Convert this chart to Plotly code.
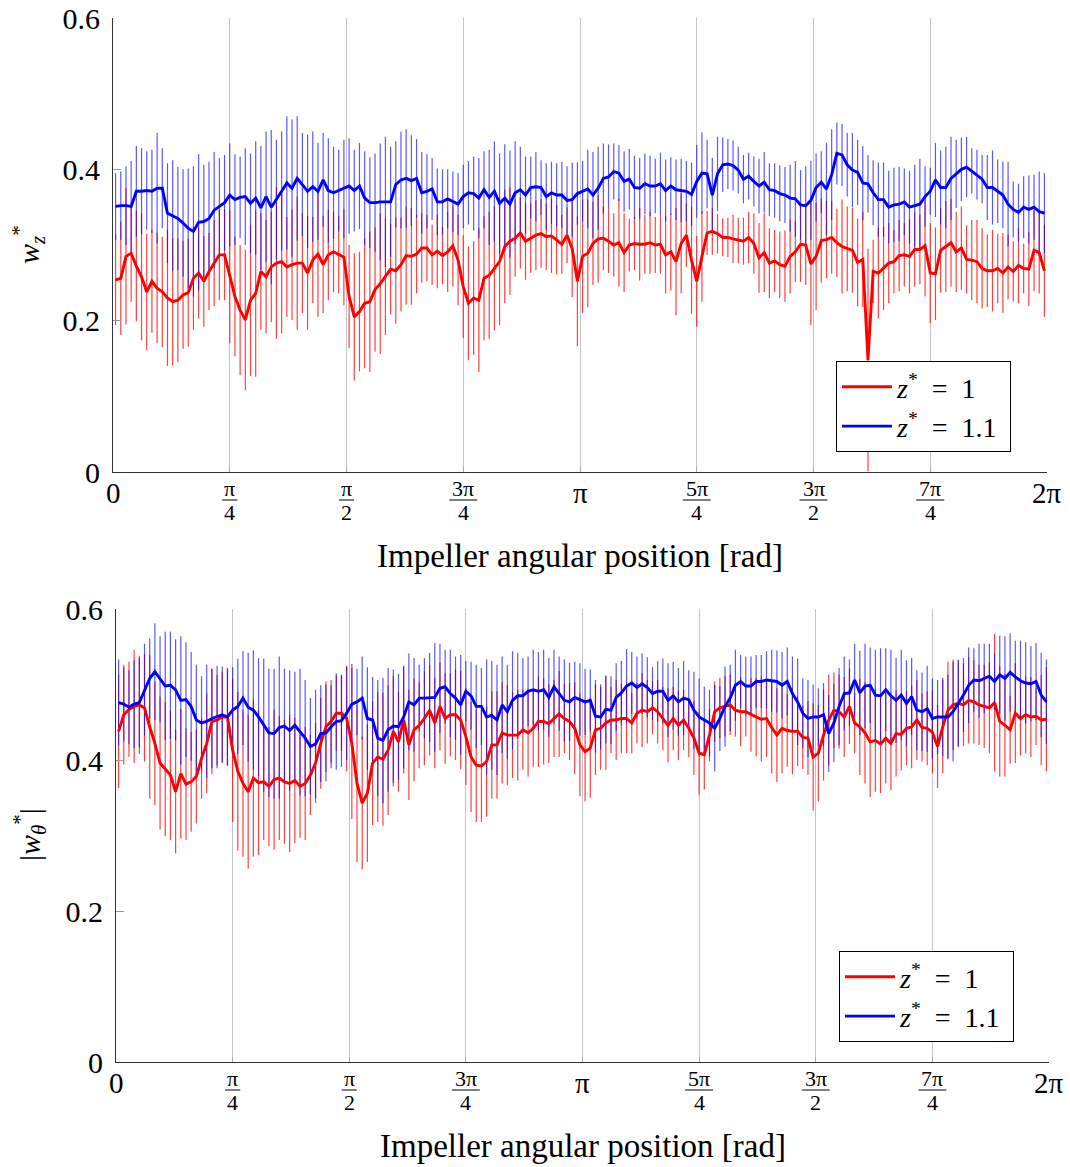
import numpy as np
import plotly.graph_objects as go

# sample angles (degrees), one sample every 2 degrees
angle_deg = list(range(1, 360, 2))

# ---------- top panel: w_z* ----------
wz_z1 = [0.254, 0.256, 0.285, 0.289, 0.272, 0.258, 0.238, 0.252, 0.243, 0.238,
         0.230, 0.225, 0.227, 0.234, 0.237, 0.256, 0.263, 0.252, 0.265, 0.276,
         0.287, 0.287, 0.258, 0.232, 0.214, 0.201, 0.227, 0.236, 0.265, 0.258,
         0.271, 0.276, 0.278, 0.271, 0.274, 0.276, 0.276, 0.263, 0.280, 0.288,
         0.274, 0.287, 0.291, 0.287, 0.284, 0.232, 0.205, 0.212, 0.223, 0.225,
         0.241, 0.249, 0.258, 0.268, 0.266, 0.274, 0.286, 0.285, 0.288, 0.296,
         0.296, 0.287, 0.292, 0.286, 0.291, 0.299, 0.280, 0.245, 0.223, 0.230,
         0.227, 0.256, 0.260, 0.269, 0.278, 0.298, 0.305, 0.309, 0.316, 0.305,
         0.309, 0.313, 0.315, 0.311, 0.312, 0.307, 0.301, 0.313, 0.295, 0.252,
         0.285, 0.289, 0.302, 0.308, 0.309, 0.305, 0.300, 0.303, 0.290, 0.300,
         0.302, 0.301, 0.301, 0.303, 0.300, 0.301, 0.287, 0.291, 0.278, 0.302,
         0.313, 0.280, 0.252, 0.285, 0.316, 0.318, 0.315, 0.310, 0.310, 0.308,
         0.306, 0.305, 0.310, 0.302, 0.283, 0.290, 0.276, 0.279, 0.274, 0.272,
         0.285, 0.291, 0.301, 0.300, 0.275, 0.285, 0.306, 0.307, 0.310, 0.303,
         0.298, 0.295, 0.293, 0.277, 0.281, 0.148, 0.265, 0.263, 0.269, 0.276,
         0.278, 0.286, 0.287, 0.285, 0.294, 0.294, 0.299, 0.263, 0.262, 0.293,
         0.298, 0.303, 0.291, 0.296, 0.281, 0.280, 0.278, 0.269, 0.266, 0.266,
         0.269, 0.263, 0.271, 0.265, 0.273, 0.269, 0.268, 0.293, 0.290, 0.266]
wz_z1_err = [0.060, 0.075, 0.090, 0.064, 0.073, 0.084, 0.077, 0.068, 0.073, 0.073,
             0.090, 0.084, 0.082, 0.071, 0.071, 0.068, 0.060, 0.060, 0.051, 0.057,
             0.060, 0.060, 0.088, 0.079, 0.086, 0.093, 0.100, 0.110, 0.077, 0.075,
             0.073, 0.100, 0.095, 0.066, 0.073, 0.088, 0.066, 0.075, 0.057, 0.083,
             0.064, 0.060, 0.053, 0.051, 0.064, 0.068, 0.084, 0.079, 0.086, 0.093,
             0.082, 0.093, 0.077, 0.060, 0.070, 0.062, 0.065, 0.064, 0.052, 0.046,
             0.044, 0.040, 0.049, 0.038, 0.053, 0.054, 0.060, 0.068, 0.075, 0.075,
             0.095, 0.082, 0.084, 0.082, 0.084, 0.075, 0.071, 0.051, 0.047, 0.051,
             0.046, 0.046, 0.045, 0.044, 0.049, 0.046, 0.039, 0.037, 0.064, 0.086,
             0.075, 0.071, 0.055, 0.058, 0.042, 0.042, 0.042, 0.058, 0.052, 0.035,
             0.035, 0.048, 0.039, 0.041, 0.037, 0.039, 0.051, 0.051, 0.071, 0.066,
             0.042, 0.071, 0.060, 0.060, 0.029, 0.031, 0.026, 0.025, 0.026, 0.032,
             0.030, 0.031, 0.034, 0.040, 0.046, 0.052, 0.046, 0.041, 0.044, 0.047,
             0.049, 0.040, 0.050, 0.053, 0.081, 0.071, 0.056, 0.051, 0.048, 0.045,
             0.062, 0.056, 0.056, 0.058, 0.063, 0.147, 0.042, 0.060, 0.055, 0.053,
             0.042, 0.047, 0.042, 0.049, 0.049, 0.046, 0.067, 0.066, 0.061, 0.056,
             0.060, 0.058, 0.053, 0.055, 0.045, 0.053, 0.055, 0.053, 0.048, 0.054,
             0.046, 0.053, 0.043, 0.040, 0.050, 0.033, 0.049, 0.054, 0.054, 0.061]
wz_z11 = [0.351, 0.352, 0.352, 0.351, 0.371, 0.371, 0.372, 0.371, 0.375, 0.375,
          0.342, 0.339, 0.335, 0.329, 0.322, 0.318, 0.330, 0.331, 0.335, 0.346,
          0.351, 0.356, 0.366, 0.360, 0.363, 0.364, 0.355, 0.362, 0.349, 0.364,
          0.350, 0.360, 0.371, 0.382, 0.375, 0.388, 0.380, 0.371, 0.377, 0.371,
          0.386, 0.372, 0.369, 0.372, 0.374, 0.378, 0.372, 0.378, 0.362, 0.356,
          0.356, 0.357, 0.357, 0.357, 0.380, 0.386, 0.388, 0.385, 0.388, 0.369,
          0.371, 0.374, 0.357, 0.357, 0.361, 0.357, 0.354, 0.364, 0.369, 0.368,
          0.362, 0.373, 0.363, 0.371, 0.355, 0.362, 0.354, 0.369, 0.373, 0.366,
          0.376, 0.377, 0.376, 0.364, 0.369, 0.366, 0.366, 0.359, 0.360, 0.368,
          0.371, 0.374, 0.366, 0.375, 0.388, 0.390, 0.397, 0.395, 0.384, 0.387,
          0.376, 0.375, 0.381, 0.378, 0.378, 0.381, 0.372, 0.378, 0.373, 0.372,
          0.371, 0.367, 0.384, 0.395, 0.394, 0.366, 0.394, 0.406, 0.407, 0.405,
          0.399, 0.387, 0.391, 0.384, 0.378, 0.383, 0.373, 0.372, 0.368, 0.366,
          0.362, 0.361, 0.353, 0.352, 0.359, 0.376, 0.383, 0.374, 0.393, 0.421,
          0.419, 0.406, 0.399, 0.396, 0.382, 0.381, 0.369, 0.360, 0.360, 0.350,
          0.353, 0.354, 0.357, 0.350, 0.352, 0.354, 0.364, 0.371, 0.386, 0.376,
          0.376, 0.388, 0.394, 0.400, 0.403, 0.398, 0.393, 0.387, 0.376, 0.376,
          0.371, 0.366, 0.354, 0.347, 0.343, 0.350, 0.347, 0.350, 0.344, 0.342]
wz_z11_err = [0.044, 0.045, 0.052, 0.060, 0.060, 0.057, 0.052, 0.055, 0.073, 0.053,
              0.066, 0.073, 0.068, 0.071, 0.079, 0.086, 0.090, 0.075, 0.075, 0.077,
              0.064, 0.063, 0.068, 0.060, 0.054, 0.064, 0.066, 0.075, 0.082, 0.086,
              0.102, 0.079, 0.079, 0.088, 0.091, 0.082, 0.068, 0.075, 0.073, 0.064,
              0.062, 0.069, 0.061, 0.054, 0.065, 0.063, 0.054, 0.057, 0.062, 0.060,
              0.065, 0.077, 0.086, 0.073, 0.057, 0.064, 0.065, 0.060, 0.052, 0.054,
              0.049, 0.041, 0.044, 0.043, 0.039, 0.040, 0.041, 0.042, 0.042, 0.049,
              0.053, 0.051, 0.063, 0.066, 0.066, 0.071, 0.071, 0.068, 0.057, 0.051,
              0.041, 0.046, 0.036, 0.044, 0.041, 0.042, 0.044, 0.045, 0.049, 0.041,
              0.040, 0.052, 0.057, 0.055, 0.046, 0.043, 0.037, 0.037, 0.040, 0.040,
              0.042, 0.040, 0.040, 0.040, 0.036, 0.041, 0.041, 0.038, 0.040, 0.042,
              0.040, 0.042, 0.048, 0.054, 0.045, 0.049, 0.049, 0.036, 0.033, 0.033,
              0.031, 0.032, 0.031, 0.033, 0.036, 0.040, 0.035, 0.036, 0.037, 0.037,
              0.044, 0.050, 0.046, 0.052, 0.052, 0.045, 0.041, 0.061, 0.060, 0.041,
              0.041, 0.042, 0.049, 0.043, 0.049, 0.038, 0.043, 0.049, 0.049, 0.048,
              0.049, 0.049, 0.044, 0.048, 0.054, 0.060, 0.040, 0.031, 0.049, 0.049,
              0.054, 0.055, 0.045, 0.042, 0.040, 0.030, 0.033, 0.032, 0.043, 0.049,
              0.042, 0.044, 0.056, 0.037, 0.038, 0.041, 0.045, 0.043, 0.053, 0.053]

# ---------- bottom panel: |w_theta*| ----------
wt_z1 = [0.438, 0.460, 0.467, 0.471, 0.473, 0.469, 0.444, 0.422, 0.396, 0.388,
         0.380, 0.358, 0.382, 0.368, 0.371, 0.378, 0.402, 0.422, 0.451, 0.453,
         0.457, 0.457, 0.413, 0.385, 0.369, 0.358, 0.376, 0.370, 0.371, 0.365,
         0.374, 0.376, 0.371, 0.369, 0.373, 0.365, 0.369, 0.380, 0.396, 0.422,
         0.444, 0.451, 0.462, 0.462, 0.455, 0.422, 0.369, 0.343, 0.356, 0.396,
         0.404, 0.401, 0.413, 0.438, 0.424, 0.453, 0.420, 0.440, 0.446, 0.455,
         0.466, 0.449, 0.471, 0.455, 0.460, 0.460, 0.453, 0.431, 0.404, 0.393,
         0.392, 0.398, 0.420, 0.420, 0.436, 0.433, 0.433, 0.433, 0.440, 0.436,
         0.442, 0.451, 0.451, 0.448, 0.455, 0.461, 0.455, 0.451, 0.442, 0.420,
         0.411, 0.416, 0.440, 0.442, 0.449, 0.453, 0.453, 0.455, 0.455, 0.449,
         0.462, 0.466, 0.464, 0.469, 0.464, 0.455, 0.446, 0.455, 0.446, 0.453,
         0.442, 0.429, 0.409, 0.407, 0.433, 0.464, 0.469, 0.471, 0.473, 0.466,
         0.464, 0.464, 0.460, 0.457, 0.454, 0.455, 0.443, 0.433, 0.442, 0.439,
         0.438, 0.438, 0.430, 0.429, 0.404, 0.409, 0.433, 0.453, 0.466, 0.464,
         0.457, 0.471, 0.449, 0.444, 0.436, 0.424, 0.426, 0.421, 0.429, 0.422,
         0.435, 0.434, 0.442, 0.444, 0.453, 0.443, 0.442, 0.437, 0.418, 0.444,
         0.466, 0.473, 0.475, 0.473, 0.479, 0.477, 0.473, 0.471, 0.469, 0.476,
         0.451, 0.446, 0.440, 0.462, 0.455, 0.460, 0.457, 0.458, 0.453, 0.454]
wt_z1_err = [0.075, 0.066, 0.063, 0.075, 0.065, 0.071, 0.095, 0.082, 0.088, 0.089,
             0.086, 0.082, 0.086, 0.074, 0.066, 0.062, 0.053, 0.066, 0.070, 0.060,
             0.060, 0.065, 0.095, 0.105, 0.097, 0.102, 0.104, 0.096, 0.077, 0.079,
             0.093, 0.082, 0.082, 0.091, 0.083, 0.068, 0.075, 0.053, 0.053, 0.060,
             0.060, 0.055, 0.050, 0.050, 0.070, 0.100, 0.104, 0.088, 0.091, 0.082,
             0.086, 0.088, 0.086, 0.073, 0.066, 0.071, 0.073, 0.068, 0.057, 0.062,
             0.060, 0.060, 0.058, 0.060, 0.055, 0.060, 0.065, 0.064, 0.073, 0.075,
             0.074, 0.073, 0.071, 0.071, 0.067, 0.066, 0.057, 0.060, 0.053, 0.058,
             0.051, 0.060, 0.057, 0.052, 0.051, 0.057, 0.046, 0.051, 0.061, 0.068,
             0.066, 0.066, 0.060, 0.055, 0.062, 0.044, 0.053, 0.046, 0.046, 0.040,
             0.040, 0.049, 0.042, 0.035, 0.042, 0.042, 0.049, 0.042, 0.046, 0.040,
             0.038, 0.049, 0.055, 0.046, 0.035, 0.040, 0.040, 0.040, 0.040, 0.035,
             0.046, 0.033, 0.049, 0.052, 0.056, 0.051, 0.061, 0.062, 0.060, 0.048,
             0.057, 0.046, 0.042, 0.049, 0.071, 0.064, 0.060, 0.060, 0.050, 0.049,
             0.053, 0.050, 0.040, 0.064, 0.067, 0.073, 0.068, 0.065, 0.060, 0.062,
             0.057, 0.048, 0.049, 0.055, 0.053, 0.045, 0.049, 0.055, 0.055, 0.062,
             0.064, 0.060, 0.057, 0.055, 0.057, 0.055, 0.053, 0.055, 0.060, 0.091,
             0.073, 0.068, 0.045, 0.066, 0.049, 0.051, 0.053, 0.038, 0.060, 0.069]
wt_z11 = [0.476, 0.474, 0.470, 0.474, 0.476, 0.493, 0.508, 0.517, 0.507, 0.498,
          0.499, 0.493, 0.479, 0.480, 0.471, 0.453, 0.449, 0.451, 0.455, 0.457,
          0.460, 0.457, 0.466, 0.471, 0.482, 0.470, 0.466, 0.457, 0.446, 0.436,
          0.435, 0.443, 0.445, 0.439, 0.446, 0.437, 0.429, 0.418, 0.421, 0.435,
          0.436, 0.444, 0.451, 0.452, 0.462, 0.474, 0.477, 0.482, 0.455, 0.453,
          0.429, 0.426, 0.440, 0.445, 0.444, 0.457, 0.477, 0.473, 0.482, 0.482,
          0.483, 0.483, 0.495, 0.497, 0.488, 0.482, 0.473, 0.491, 0.485, 0.471,
          0.471, 0.457, 0.459, 0.453, 0.473, 0.464, 0.479, 0.485, 0.485, 0.491,
          0.493, 0.491, 0.493, 0.483, 0.497, 0.488, 0.479, 0.477, 0.483, 0.480,
          0.477, 0.479, 0.458, 0.457, 0.467, 0.466, 0.483, 0.489, 0.498, 0.502,
          0.496, 0.501, 0.496, 0.488, 0.491, 0.491, 0.479, 0.485, 0.477, 0.482,
          0.480, 0.466, 0.457, 0.453, 0.449, 0.442, 0.455, 0.471, 0.482, 0.499,
          0.504, 0.498, 0.498, 0.504, 0.504, 0.506, 0.505, 0.504, 0.499, 0.504,
          0.488, 0.477, 0.462, 0.455, 0.457, 0.457, 0.460, 0.435, 0.449, 0.471,
          0.488, 0.489, 0.506, 0.489, 0.498, 0.499, 0.486, 0.485, 0.493, 0.485,
          0.479, 0.486, 0.475, 0.484, 0.466, 0.464, 0.468, 0.455, 0.457, 0.457,
          0.457, 0.464, 0.475, 0.486, 0.499, 0.506, 0.505, 0.508, 0.511, 0.504,
          0.513, 0.508, 0.516, 0.510, 0.505, 0.502, 0.501, 0.504, 0.486, 0.477]
wt_z11_err = [0.057, 0.049, 0.049, 0.058, 0.059, 0.061, 0.053, 0.064, 0.057, 0.072,
              0.071, 0.067, 0.085, 0.076, 0.072, 0.073, 0.062, 0.075, 0.066, 0.068,
              0.064, 0.064, 0.057, 0.063, 0.062, 0.072, 0.079, 0.078, 0.088, 0.085,
              0.086, 0.094, 0.076, 0.080, 0.071, 0.084, 0.077, 0.064, 0.072, 0.064,
              0.064, 0.055, 0.064, 0.061, 0.062, 0.053, 0.044, 0.055, 0.068, 0.057,
              0.077, 0.083, 0.082, 0.075, 0.070, 0.068, 0.064, 0.062, 0.044, 0.053,
              0.059, 0.072, 0.059, 0.049, 0.058, 0.055, 0.066, 0.040, 0.045, 0.055,
              0.051, 0.076, 0.072, 0.073, 0.064, 0.062, 0.065, 0.057, 0.050, 0.046,
              0.053, 0.052, 0.053, 0.052, 0.049, 0.049, 0.054, 0.052, 0.047, 0.048,
              0.044, 0.041, 0.048, 0.043, 0.045, 0.045, 0.045, 0.042, 0.049, 0.041,
              0.041, 0.040, 0.040, 0.035, 0.040, 0.043, 0.049, 0.045, 0.045, 0.049,
              0.039, 0.051, 0.051, 0.044, 0.044, 0.057, 0.043, 0.053, 0.044, 0.047,
              0.035, 0.039, 0.039, 0.035, 0.035, 0.038, 0.041, 0.041, 0.044, 0.045,
              0.049, 0.057, 0.046, 0.051, 0.043, 0.038, 0.042, 0.051, 0.052, 0.051,
              0.049, 0.044, 0.048, 0.056, 0.056, 0.050, 0.060, 0.063, 0.055, 0.061,
              0.056, 0.060, 0.057, 0.051, 0.053, 0.052, 0.057, 0.053, 0.049, 0.052,
              0.056, 0.066, 0.058, 0.049, 0.050, 0.042, 0.049, 0.046, 0.043, 0.037,
              0.052, 0.056, 0.052, 0.048, 0.053, 0.054, 0.050, 0.051, 0.056, 0.056]

series_names = ["<i>z</i><sup>*</sup>\u2002=\u20021",
                "<i>z</i><sup>*</sup>\u2002=\u20021.1\u00a0"]
y_ticks = [0, 0.2, 0.4, 0.6]
y_ticktext = ["0", "0.2", "0.4", "0.6"]
tick_num = ["0", "π", "π", "3π", "π", "5π", "3π", "7π", "2π"]
tick_den = ["", "4", "2", "4", "", "4", "2", "4", ""]
x_title = "Impeller angular position [rad]"
y_titles = ["<i>w</i><sub><i>z</i></sub><sup>*</sup>",
            "|<i>w</i><sub><i>θ</i></sub><sup>*</sup>|"]

theta = np.deg2rad(angle_deg)
tick_vals = [k * np.pi / 4 for k in range(len(tick_num))]

FONT = "Liberation Serif, DejaVu Serif, serif"
RED, BLUE = "#ff0000", "#0000ff"
RED_BAR, BLUE_BAR = "rgba(255,0,0,0.75)", "rgba(0,0,255,0.65)"

W, H = 1070, 1167
ML, MR, MT, MB = 113, 21, 18, 105
PW, PH = W - ML - MR, H - MT - MB


def py2paper(py):
    return (H - MB - py) / PH


def px2paper(px):
    return (px - ML) / PW


fig = go.Figure()

panels = [
    ("x", "y", "legend", wz_z1, wz_z1_err, wz_z11, wz_z11_err),
    ("x2", "y2", "legend2", wt_z1, wt_z1_err, wt_z11, wt_z11_err),
]

for xa, ya, lg, m1, e1, m2, e2 in panels:
    for mean, err, bc in ((m1, e1, RED_BAR), (m2, e2, BLUE_BAR)):
        fig.add_trace(go.Scatter(
            x=theta, y=mean, mode="markers", xaxis=xa, yaxis=ya,
            marker=dict(size=0, color="rgba(0,0,0,0)"),
            error_y=dict(type="data", array=err, visible=True, thickness=1.2,
                         width=0, color=bc),
            showlegend=False, hoverinfo="skip"))
    for k, (mean, col, nm) in enumerate(((m1, RED, series_names[0]),
                                         (m2, BLUE, series_names[1]))):
        fig.add_trace(go.Scatter(
            x=theta, y=mean, mode="lines", xaxis=xa, yaxis=ya, legend=lg,
            legendgroup=f"{lg}_{k}",
            line=dict(color=col, width=2.9), name=nm))

axis_common = dict(
    range=[0, 2 * np.pi], tickvals=tick_vals, showticklabels=False,
    showgrid=True, gridcolor="#c4c4c4", gridwidth=1, zeroline=False,
    showline=True, linecolor="#333", linewidth=1.2,
    ticks="inside", ticklen=5, tickcolor="#aaa", automargin=False,
)
yaxis_common = dict(
    range=[0, 0.6], tickvals=y_ticks, ticktext=y_ticktext,
    showgrid=False, zeroline=False, showline=True, linecolor="#333", linewidth=1.2,
    ticks="inside", ticklen=8, tickcolor="#999", automargin=False,
    tickfont=dict(family=FONT, size=30, color="black"),
    ticklabelstandoff=6,
)

legend_common = dict(xanchor="left", yanchor="top", bgcolor="white",
                     bordercolor="black", borderwidth=1,
                     font=dict(family=FONT, size=28, color="black"),
                     tracegroupgap=0, itemwidth=50)

fig.update_layout(
    width=W, height=H, margin=dict(l=ML, r=MR, t=MT, b=MB, autoexpand=False),
    paper_bgcolor="white", plot_bgcolor="white",
    font=dict(family=FONT, color="black"),
    xaxis=dict(axis_common, domain=[0, 934 / PW], anchor="y"),
    xaxis2=dict(axis_common, domain=[3 / PW, 1], anchor="y2"),
    yaxis=dict(yaxis_common, domain=[1 - 454 / PH, 1], anchor="x"),
    yaxis2=dict(yaxis_common, domain=[0, 453 / PH], anchor="x2"),
    legend=dict(legend_common, x=px2paper(836), y=py2paper(361)),
    legend2=dict(legend_common, x=px2paper(839), y=py2paper(951)),
    showlegend=True,
)

# x tick labels (stacked fractions), axis titles
for xr, axis_py, ytitle_py, ytitle in (("x", 472, 245, y_titles[0]),
                                       ("x2", 1062, 835, y_titles[1])):
    for k, (n, d) in enumerate(zip(tick_num, tick_den)):
        xv = tick_vals[k]
        if not d:
            fig.add_annotation(x=xv, xref=xr, y=py2paper(axis_py + 21), yref="paper",
                               text=n, showarrow=False, yanchor="middle",
                               font=dict(family=FONT, size=29, color="black"))
            continue
        fig.add_annotation(x=xv, xref=xr, y=py2paper(axis_py + 16), yref="paper",
                           text=n, showarrow=False, yanchor="middle",
                           font=dict(family=FONT, size=22, color="black"))
        fig.add_annotation(x=xv, xref=xr, y=py2paper(axis_py + 40), yref="paper",
                           text=d, showarrow=False, yanchor="middle",
                           font=dict(family=FONT, size=22, color="black"))
        half = 0.051 if len(n) == 1 else 0.094
        yb = py2paper(axis_py + 28)
        fig.add_shape(type="line", xref=xr, yref="paper",
                      x0=xv - half, x1=xv + half, y0=yb, y1=yb,
                      line=dict(color="black", width=1))
    fig.add_annotation(x=np.pi, xref=xr, y=py2paper(axis_py + 84), yref="paper",
                       text=x_title, showarrow=False, yanchor="middle",
                       font=dict(family=FONT, size=33, color="black"))
    fig.add_annotation(x=px2paper(29), xref="paper", y=py2paper(ytitle_py), yref="paper",
                       text=ytitle, showarrow=False, textangle=-90,
                       xanchor="center", yanchor="middle",
                       font=dict(family=FONT, size=30, color="black"))

fig.write_html("out.html")
